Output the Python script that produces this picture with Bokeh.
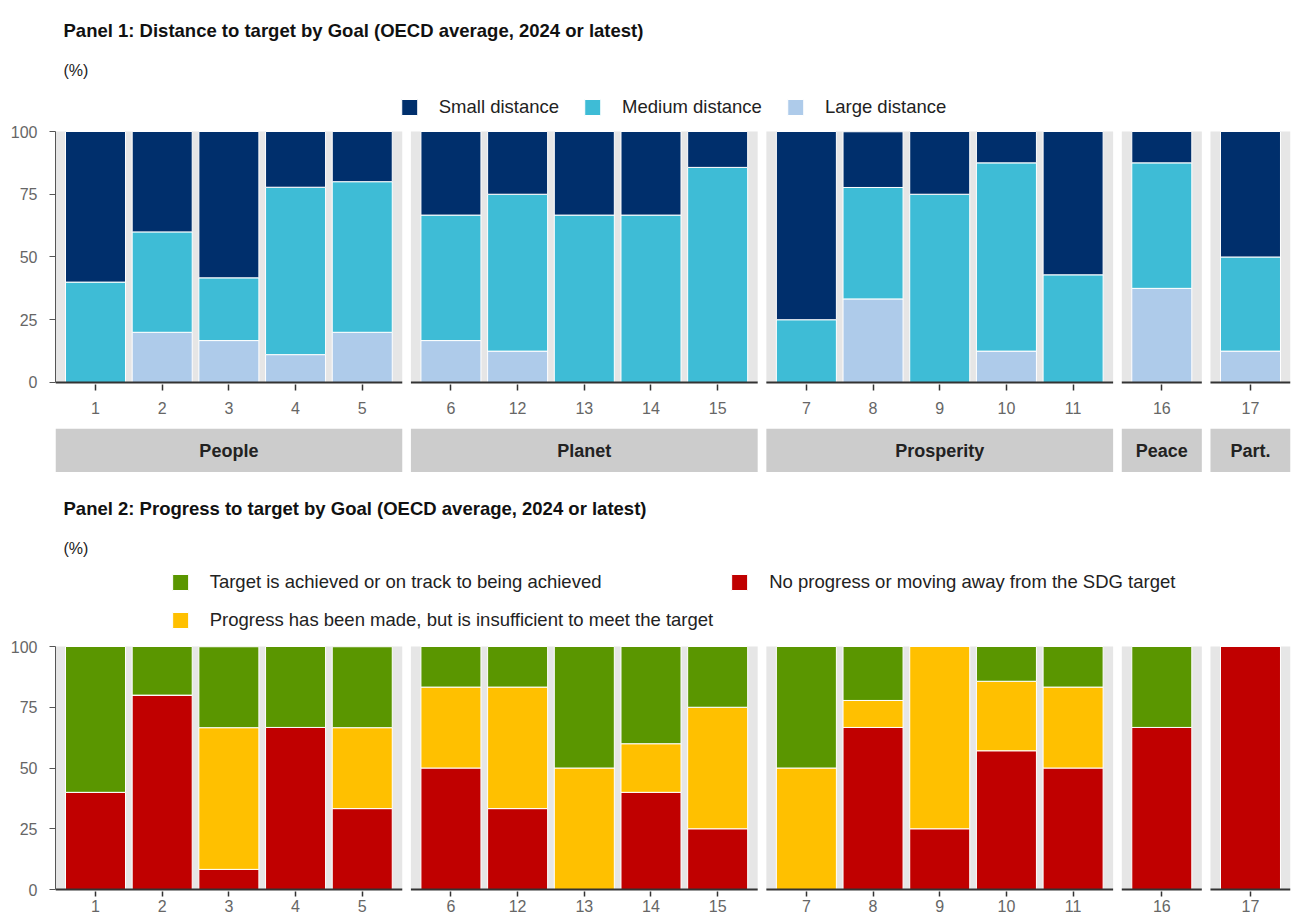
from bokeh.plotting import figure
from bokeh.models import Range1d, FixedTicker, Legend, LegendItem, ColumnDataSource
from bokeh.layouts import column
from bokeh.embed import file_html
from bokeh.resources import INLINE
from bokeh.core.properties import value

FONT = "Liberation Sans"

# ---------------- data ----------------
groups = ["People", "Planet", "Prosperity", "Peace", "Part."]
group_goals = [[1, 2, 3, 4, 5], [6, 12, 13, 14, 15], [7, 8, 9, 10, 11], [16], [17]]

# Panel 1 (% of indicators), goal order 1,2,3,4,5,6,12,13,14,15,7,8,9,10,11,16,17
small_distance = [60, 40, 58.3, 22.2, 20, 33.3, 25, 33.3, 33.3, 14.3, 75, 22.2, 25, 12.5, 57.1, 12.5, 50]
medium_distance = [40, 40, 25, 66.7, 60, 50, 62.5, 66.7, 66.7, 85.7, 25, 44.4, 75, 75, 42.9, 50, 37.5]
large_distance = [0, 20, 16.7, 11.1, 20, 16.7, 12.5, 0, 0, 0, 0, 33.3, 0, 12.5, 0, 37.5, 12.5]

# Panel 2
on_track = [60, 20, 33.3, 33.3, 33.3, 16.7, 16.7, 50, 40, 25, 50, 22.2, 0, 14.3, 16.7, 33.3, 0]
insufficient = [0, 0, 58.3, 0, 33.3, 33.3, 50, 50, 20, 50, 50, 11.1, 75, 28.6, 33.3, 0, 0]
no_progress = [40, 80, 8.3, 66.7, 33.3, 50, 33.3, 0, 40, 25, 0, 66.7, 25, 57.1, 50, 66.7, 100]

y_ticks = [0, 25, 50, 75, 100]

title1 = "Panel 1: Distance to target by Goal (OECD average, 2024 or latest)"
title2 = "Panel 2: Progress to target by Goal (OECD average, 2024 or latest)"
unit_label = "(%)"
dist_labels = ["Small distance", "Medium distance", "Large distance"]
prog_labels = ["Target is achieved or on track to being achieved",
               "Progress has been made, but is insufficient to meet the target",
               "No progress or moving away from the SDG target"]

# ---------------- styles ----------------
C_SMALL, C_MED, C_LARGE = "#002f6c", "#3ebcd6", "#aecbea"
C_GREEN, C_YELLOW, C_RED = "#5a9600", "#ffc000", "#c00000"
PANEL_BG = "#e6e6e6"
STRIP_BG = "#cccccc"

PAD = 0.6     # discrete axis expansion inside each facet
GAP = 0.13    # gap between facets (x units)

goals, x_pos, starts, ends = [], [], [], []
offset = 0.0
for gg in group_goals:
    starts.append(round(offset, 4))
    for i, g in enumerate(gg):
        goals.append(g)
        x_pos.append(round(offset + PAD + i, 4))
    offset += len(gg) - 1 + 2 * PAD
    ends.append(round(offset, 4))
    offset += GAP
x_end = ends[-1]
centres = [(a + b) / 2 for a, b in zip(starts, ends)]

x_range = Range1d(0, x_end)
W = 1298
LEFT = 55
RIGHT = 8
Y0 = -0.8


def make_panel(height, bottom, frame_px, px_100, standoff, tick_out):
    # frame_px: frame height in px; px_100: px between y=Y0 and y=100
    y_end = Y0 + frame_px * (100 - Y0) / px_100
    p = figure(width=W, height=height, x_range=x_range, y_range=Range1d(Y0, y_end),
               output_backend="svg", toolbar_location=None,
               min_border_left=LEFT, min_border_right=RIGHT,
               min_border_top=0, min_border_bottom=bottom)
    p.xgrid.visible = False
    p.ygrid.visible = False
    p.outline_line_color = None
    p.background_fill_color = "white"
    p.border_fill_color = "white"
    p.quad(left=starts, right=ends, bottom=0, top=100, fill_color=PANEL_BG, line_color=None)
    # y axis
    p.yaxis.ticker = FixedTicker(ticks=y_ticks)
    p.yaxis.bounds = (0, 100)
    p.yaxis.axis_line_color = "#555555"
    p.yaxis.major_tick_line_color = "#555555"
    p.yaxis.major_tick_out = 6
    p.yaxis.major_tick_in = 0
    p.yaxis.minor_tick_line_color = None
    p.yaxis.major_label_standoff = 12
    p.yaxis.major_label_text_font = FONT
    p.yaxis.major_label_text_font_size = "16px"
    p.yaxis.major_label_text_color = "#666666"
    # x axis
    p.xaxis.ticker = FixedTicker(ticks=x_pos)
    p.xaxis.major_label_overrides = {x: str(g) for x, g in zip(x_pos, goals)}
    p.xaxis.axis_line_color = None
    p.xaxis.major_tick_line_color = "#333333"
    p.xaxis.major_tick_line_width = 1.5
    p.xaxis.major_tick_out = tick_out
    p.xaxis.major_tick_in = 0
    p.xaxis.minor_tick_line_color = None
    p.xaxis.major_label_standoff = standoff
    p.xaxis.major_label_text_font = FONT
    p.xaxis.major_label_text_font_size = "16px"
    p.xaxis.major_label_text_color = "#666666"
    return p


def add_titles(p, title, off_title, off_unit):
    p.text(x=[0], y=[100], text=[title], x_offset=8, y_offset=off_title,
           text_align="left", text_baseline="middle", text_font=value(FONT),
           text_font_size="18.5px", text_font_style="bold", text_color="#111111")
    p.text(x=[0], y=[100], text=[unit_label], x_offset=8, y_offset=off_unit,
           text_align="left", text_baseline="middle", text_font=value(FONT),
           text_font_size="16px", text_color="#222222")


def make_legend(items, **kw):
    return Legend(items=items, location="top_center", border_line_color=None, background_fill_alpha=0,
                  label_text_font=FONT, label_text_font_size="18.5px", label_text_color="#222222",
                  glyph_width=20, glyph_height=20, label_height=22, label_standoff=20, **kw)


# ---------------- Panel 1 ----------------
src1 = ColumnDataSource(dict(x=x_pos, large=large_distance, medium=medium_distance, small=small_distance))
p1 = make_panel(428, 44, 384, 384 - 131, 11, 6)
r1 = p1.vbar_stack(["large", "medium", "small"], x="x", width=0.9, source=src1,
                   color=[C_LARGE, C_MED, C_SMALL], line_color="white", line_width=1)
p1.segment(x0=starts, y0=0, x1=ends, y1=0, line_color="#333333", line_width=2)
leg1 = make_legend([LegendItem(label=dist_labels[0], renderers=[r1[2]]),
                    LegendItem(label=dist_labels[1], renderers=[r1[1]]),
                    LegendItem(label=dist_labels[2], renderers=[r1[0]])],
                   orientation="horizontal", spacing=23, margin=96, padding=8)
p1.add_layout(leg1)
add_titles(p1, title1, -101, -61)

# ---------------- strips ----------------
ps = figure(width=W, height=44, x_range=x_range, y_range=Range1d(0, 1),
            output_backend="svg", toolbar_location=None,
            min_border_left=LEFT, min_border_right=RIGHT, min_border_top=0, min_border_bottom=0)
ps.axis.visible = False
ps.grid.visible = False
ps.outline_line_color = None
ps.quad(left=starts, right=ends, bottom=0, top=1, fill_color=STRIP_BG, line_color=None)
ps.text(x=centres, y=[0.5] * len(groups), text=groups, text_align="center", text_baseline="middle",
        text_font=value(FONT), text_font_size="18px", text_font_style="bold", text_color="#222222")

# ---------------- Panel 2 ----------------
src2 = ColumnDataSource(dict(x=x_pos, red=no_progress, yellow=insufficient, green=on_track))
p2 = make_panel(445, 26, 419, 891 - 646, 3, 5)
r2 = p2.vbar_stack(["red", "yellow", "green"], x="x", width=0.9, source=src2,
                   color=[C_RED, C_YELLOW, C_GREEN], line_color="white", line_width=1)
p2.segment(x0=starts, y0=0, x1=ends, y1=0, line_color="#333333", line_width=2)
leg2 = make_legend([LegendItem(label=prog_labels[0], renderers=[r2[2]]),
                    LegendItem(label=prog_labels[1], renderers=[r2[1]]),
                    LegendItem(label=prog_labels[2], renderers=[r2[0]])],
                   orientation="vertical", nrows=2, spacing=16, margin=99, padding=8)
p2.add_layout(leg2)
add_titles(p2, title2, -138, -98)

layout = column(p1, ps, p2, spacing=0)
open("out.html", "w").write(file_html(layout, INLINE))
